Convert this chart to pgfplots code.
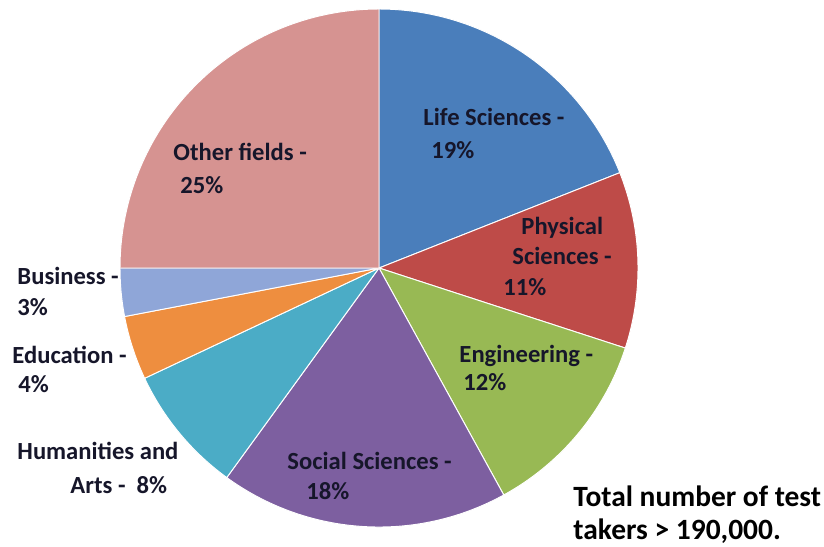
\documentclass[border=0pt]{standalone}
\usepackage{pgfplots}
\pgfplotsset{compat=1.18}
\usepackage{fontspec}
\setmainfont{Carlito}
\definecolor{lifec}{HTML}{4A7EBB}
\definecolor{physc}{HTML}{BE4B48}
\definecolor{engc}{HTML}{98B954}
\definecolor{socc}{HTML}{7D5FA0}
\definecolor{humc}{HTML}{4BACC6}
\definecolor{educ}{HTML}{EE8E3F}
\definecolor{busc}{HTML}{8FA6D8}
\definecolor{othc}{HTML}{D69391}
\definecolor{txt}{HTML}{16162A}
% #1 = cumulative percent before slice, #2 = slice percent, #3 = colour
\newcommand{\slice}[3]{%
  \addplot[fill=#3, draw=white, line width=0.4pt, domain={90-3.6*(#1+#2)}:{90-3.6*(#1)}, samples=90, variable=\t]
    ({379+259*cos(\t)}, {268-259*sin(\t)}) -- (axis cs:379,268) -- cycle;
}
\begin{document}
\begin{tikzpicture}
\begin{axis}[
  width=12cm, height=7.9515cm, scale only axis,
  xmin=0, xmax=824, ymin=0, ymax=546, y dir=reverse,
  hide axis, clip=false,
]
\path (axis cs:0,0) rectangle (axis cs:824,546);
% cumulative %, share %, colour
\slice{0}{19}{lifec}   % Life Sciences
\slice{19}{11}{physc}  % Physical Sciences
\slice{30}{12}{engc}   % Engineering
\slice{42}{18}{socc}   % Social Sciences
\slice{60}{8}{humc}    % Humanities and Arts
\slice{68}{4}{educ}    % Education
\slice{72}{3}{busc}    % Business
\slice{75}{25}{othc}   % Other fields

\begin{scope}[every node/.style={anchor=base west, inner sep=0pt, text=txt, font=\fontsize{10.2pt}{12pt}\selectfont\bfseries}]
\node at (axis cs:423,125) {Life Sciences -};
\node at (axis cs:431,158) {19\%};
\node at (axis cs:521,234) {Physical};
\node at (axis cs:512,264) {Sciences -};
\node at (axis cs:503,295) {11\%};
\node at (axis cs:459,362) {Engineering -};
\node at (axis cs:463,390) {12\%};
\node at (axis cs:287,469) {Social Sciences -};
\node at (axis cs:306,499) {18\%};
\node at (axis cs:173,160) {Other fields -};
\node at (axis cs:180,193) {25\%};
\node at (axis cs:17,284) {Business -};
\node at (axis cs:17,315) {3\%};
\node at (axis cs:12,363) {Education -};
\node at (axis cs:18,392) {4\%};
\node at (axis cs:17,459) {Humanities and};
\node at (axis cs:70,493) {Arts -\ \ 8\%};
\end{scope}
\node[anchor=base west, inner sep=0pt, text=black, font=\fontsize{12.2pt}{14pt}\selectfont\bfseries] at (axis cs:573,506) {Total number of test};
\node[anchor=base west, inner sep=0pt, text=black, font=\fontsize{12.2pt}{14pt}\selectfont\bfseries] at (axis cs:573,539) {takers > 190,000.};
\end{axis}
\end{tikzpicture}
\end{document}
